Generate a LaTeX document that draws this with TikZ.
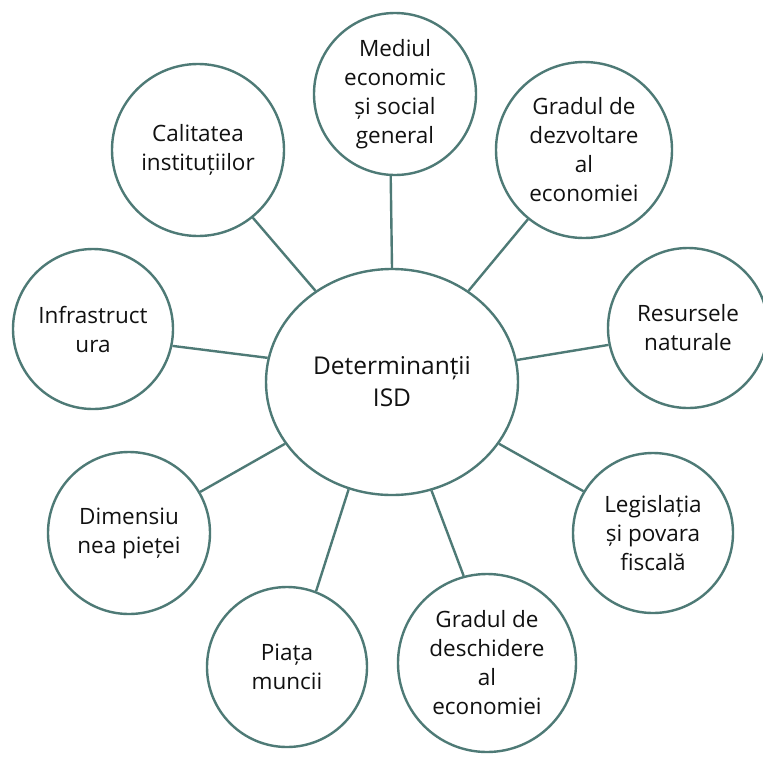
\documentclass[tikz,border=0pt]{standalone}
\usepackage{fontspec}
\setmainfont{Open Sans}
\usetikzlibrary{shapes.geometric}
\definecolor{ringcol}{HTML}{4E7A76}
\definecolor{txtcol}{HTML}{111111}
\tikzset{
  hub/.style={ellipse, draw=ringcol, line width=2.4pt, fill=white, inner sep=0pt,
    minimum width=252pt, minimum height=226pt, align=center, text=txtcol,
    font=\fontsize{24.5pt}{32pt}\selectfont},
  factor/.style={circle, draw=ringcol, line width=2.4pt, fill=white, inner sep=0pt,
    minimum size=#1, align=center, text=txtcol,
    font=\fontsize{22.5pt}{29pt}\selectfont},
  factor/.default=160pt,
  spoke/.style={draw=ringcol, line width=2.4pt}
}
\begin{document}
\begin{tikzpicture}[x=1pt,y=-1pt]
\useasboundingbox (0,0) rectangle (763,756);
\fill[white] (0,0) rectangle (763,756);

% central determinant
\node[hub] (c) at (392,382) {Determinanții\\ISD};

% surrounding factors
\node[factor=162pt] (med) at (395,94)  {Mediul\\economic\\și social\\general};
\node[factor=176pt] (dez) at (584,150) {Gradul de\\dezvoltare\\al\\economiei};
\node[factor=160pt] (res) at (688,328) {Resursele\\naturale};
\node[factor=160pt] (leg) at (653,533) {Legislația\\și povara\\fiscală};
\node[factor=178pt] (des) at (487,663) {Gradul de\\deschidere\\al\\economiei};
\node[factor=160pt] (pia) at (287,667) {Piața\\muncii};
\node[factor=162pt] (dim) at (129,533) {Dimensiu\\nea pieței};
\node[factor=160pt] (inf) at (93,329)  {Infrastruct\\ura};
\node[factor=172pt] (cal) at (198,150) {Calitatea\\instituțiilor};

% spokes
\draw[spoke] (c.130.2) -- (cal.309.4);
\draw[spoke] (c.90)    -- (med.267);
\draw[spoke] (c.50.2)  -- (dez.231.1);
\draw[spoke] (c.10.3)  -- (res.192.7);
\draw[spoke] (c.-30.6) -- (leg.149.3);
\draw[spoke] (c.290.8) -- (des.105.9);
\draw[spoke] (c.248.7) -- (pia.69.1);
\draw[spoke] (c.210.1) -- (dim.30);
\draw[spoke] (c.169.6) -- (inf.348.8);
\end{tikzpicture}
\end{document}
